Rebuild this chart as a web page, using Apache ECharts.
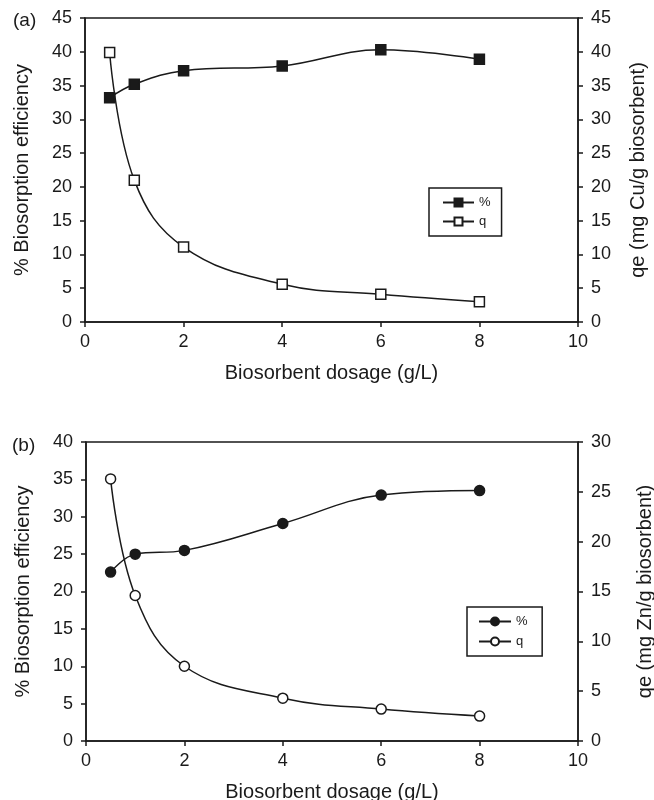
<!DOCTYPE html>
<html>
<head>
<meta charset="utf-8">
<script src="https://cdn.jsdelivr.net/npm/echarts@6/dist/echarts.min.js"></script>
<style>
  html, body { margin: 0; padding: 0; background: #fff; }
  #chart { width: 654px; height: 800px; }
</style>
</head>
<body>
<div id="chart"></div>
<script>
// dosage (g/L)
const dosage = [0.5, 1, 2, 4, 6, 8]

// (a) Cu
const cuPercent = [33.2, 35.2, 37.2, 37.9, 40.3, 38.9]
const cuQ = [39.9, 21.0, 11.1, 5.6, 4.1, 3.0]

// (b) Zn
const znPercent = [22.6, 25.0, 25.5, 29.1, 32.9, 33.5]
const znQ = [26.3, 14.6, 7.5, 4.3, 3.2, 2.5]

const ink = '#1a1a1a'
const font = 'Liberation Sans, Arial, sans-serif'

const pairs = (ys) => dosage.map((x, i) => [x, ys[i]])

const axisCommon = {
  axisLine: { show: true, lineStyle: { color: ink, width: 1.5 } },
  axisTick: { show: true, inside: false, length: 5, lineStyle: { color: ink, width: 1.5 } },
  axisLabel: { color: ink, fontSize: 18, fontFamily: font },
  splitLine: { show: false },
  nameTextStyle: { color: ink, fontSize: 20, fontFamily: font }
}

const xAxis = (gi) => ({
  ...axisCommon,
  type: 'value', gridIndex: gi, min: 0, max: 10, interval: 2,
  name: 'Biosorbent dosage (g/L)', nameLocation: 'middle', nameGap: 41,
  axisLabel: { ...axisCommon.axisLabel, margin: 11 }
})

const yAxis = (gi, pos, max, name, gap) => ({
  ...axisCommon,
  type: 'value', gridIndex: gi, position: pos, min: 0, max, interval: 5,
  name, nameLocation: 'middle', nameRotate: 90, nameGap: gap,
  axisLabel: { ...axisCommon.axisLabel, margin: 13 }
})

const lineSeries = (name, data, xi, yi, symbol, filled) => ({
  name, type: 'line', xAxisIndex: xi, yAxisIndex: yi, data,
  smooth: 0.4,
  symbol, symbolSize: 10, showSymbol: true,
  lineStyle: { color: ink, width: 1.5 },
  itemStyle: { color: filled ? ink : '#fff', borderColor: ink, borderWidth: 1.5 },
  z: 3
})

const chart = echarts.init(document.getElementById('chart'), null, { renderer: 'canvas' })

chart.setOption({
  animation: false,
  backgroundColor: '#fff',
  title: [
    { text: '(a)', left: 8, top: 6, textStyle: { color: ink, fontSize: 19, fontWeight: 'normal', fontFamily: font } },
    { text: '(b)', left: 7, top: 431, textStyle: { color: ink, fontSize: 19, fontWeight: 'normal', fontFamily: font } }
  ],
  grid: [
    { left: 85, top: 18, width: 493, height: 304, containLabel: false, outerBoundsMode: 'none',
      show: true, borderColor: ink, borderWidth: 1.5, backgroundColor: 'transparent' },
    { left: 86, top: 442, width: 492, height: 299, containLabel: false, outerBoundsMode: 'none',
      show: true, borderColor: ink, borderWidth: 1.5, backgroundColor: 'transparent' }
  ],
  legend: [
    {
      data: ['%', 'q'], orient: 'vertical', left: 429, top: 188,
      itemWidth: 31, itemHeight: 10, itemGap: 6,
      padding: [8, 11, 8, 13],
      borderColor: ink, borderWidth: 1.5,
      textStyle: { color: ink, fontSize: 13, fontFamily: font }
    },
    {
      data: ['% ', 'q '], orient: 'vertical', left: 467, top: 607,
      itemWidth: 32, itemHeight: 10, itemGap: 7,
      padding: [8, 11, 8, 11],
      borderColor: ink, borderWidth: 1.5,
      textStyle: { color: ink, fontSize: 13, fontFamily: font }
    }
  ],
  xAxis: [xAxis(0), xAxis(1)],
  yAxis: [
    yAxis(0, 'left', 45, '% Biosorption efficiency', 53),
    yAxis(0, 'right', 45, 'qe (mg Cu/g biosorbent)', 50),
    yAxis(1, 'left', 40, '% Biosorption efficiency', 53),
    yAxis(1, 'right', 30, 'qe (mg Zn/g biosorbent)', 57)
  ],
  series: [
    lineSeries('%', pairs(cuPercent), 0, 0, 'rect', true),
    lineSeries('q', pairs(cuQ), 0, 1, 'rect', false),
    lineSeries('% ', pairs(znPercent), 1, 2, 'circle', true),
    lineSeries('q ', pairs(znQ), 1, 3, 'circle', false)
  ]
})
</script>
</body>
</html>
